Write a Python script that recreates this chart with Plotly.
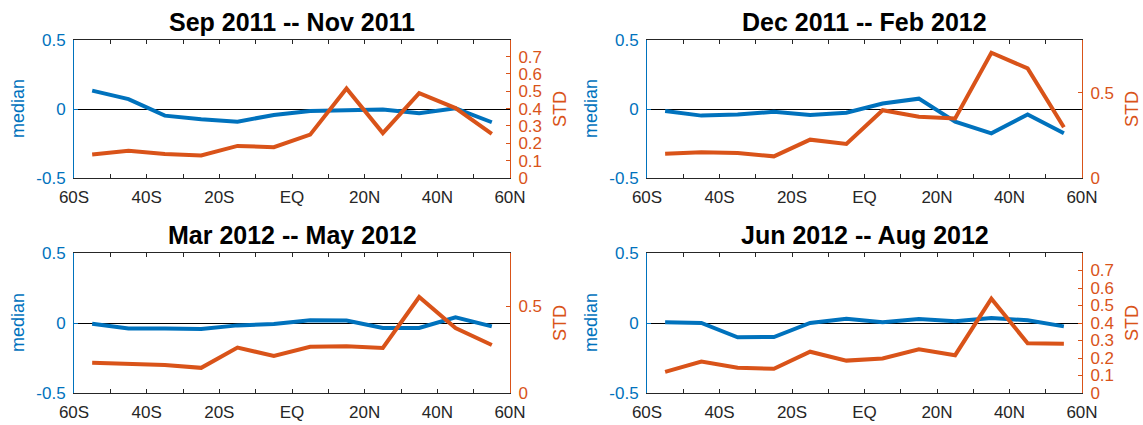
import plotly.graph_objects as go

W, H = 1143, 425

# ---------------- data ----------------
lat = [-55, -45, -35, -25, -15, -5, 5, 15, 25, 35, 45, 55]
xtick_vals = [-60, -50, -40, -30, -20, -10, 0, 10, 20, 30, 40, 50, 60]
xtick_text = ["60S", "", "40S", "", "20S", "", "EQ", "", "20N", "", "40N", "", "60N"]

titles = ["Sep 2011 -- Nov 2011", "Dec 2011 -- Feb 2012",
          "Mar 2012 -- May 2012", "Jun 2012 -- Aug 2012"]

median_son = [0.133, 0.072, -0.048, -0.075, -0.092, -0.043, -0.015, -0.012, -0.004, -0.030, 0.005, -0.096]
std_son = [0.136, 0.157, 0.138, 0.130, 0.185, 0.178, 0.250, 0.516, 0.259, 0.490, 0.403, 0.255]

median_djf = [-0.015, -0.048, -0.040, -0.020, -0.043, -0.027, 0.040, 0.075, -0.092, -0.176, -0.040, -0.176]
std_djf = [0.143, 0.151, 0.147, 0.127, 0.225, 0.200, 0.398, 0.359, 0.349, 0.735, 0.643, 0.298]

median_mam = [-0.005, -0.040, -0.040, -0.043, -0.017, -0.007, 0.019, 0.017, -0.036, -0.036, 0.040, -0.024]
std_mam = [0.174, 0.168, 0.162, 0.145, 0.262, 0.213, 0.266, 0.270, 0.260, 0.553, 0.374, 0.277]

median_jja = [0.005, 0.000, -0.102, -0.100, 0.000, 0.031, 0.005, 0.029, 0.012, 0.036, 0.019, -0.024]
std_jja = [0.121, 0.180, 0.144, 0.138, 0.236, 0.185, 0.197, 0.250, 0.216, 0.539, 0.284, 0.282]

medians = [median_son, median_djf, median_mam, median_jja]
stds = [std_son, std_djf, std_mam, std_jja]

left_ticks = [-0.5, 0, 0.5]
left_text = ["-0.5", "0", "0.5"]
std_ticks_full = [0, 0.1, 0.2, 0.3, 0.4, 0.5, 0.6, 0.7]
std_text_full = ["0", "0.1", "0.2", "0.3", "0.4", "0.5", "0.6", "0.7"]
std_ticks_short = [0, 0.5]
std_text_short = ["0", "0.5"]
std_tickvals = [std_ticks_full, std_ticks_short, std_ticks_short, std_ticks_full]
std_ticktext = [std_text_full, std_text_short, std_text_short, std_text_full]
std_ranges = [[0, 0.796], [0, 0.81], [0, 0.807], [0, 0.80]]

# ---------------- style / layout ----------------
BLUE = "#0072BD"
ORANGE = "#D95319"
DARK = "#262626"
FONT = "Liberation Sans, Arial, Helvetica, sans-serif"

# plot areas in pixels: (left, right, top, bottom)
boxes = [(74, 510, 40, 178), (647, 1082, 40, 178),
         (74, 510, 253, 393), (647, 1082, 253, 393)]


def px_x(x):
    return x / W


def px_y(y):
    return 1 - y / H


fig = go.Figure()
layout = dict(
    width=W, height=H,
    margin=dict(l=0, r=0, t=0, b=0, autoexpand=False),
    paper_bgcolor="white", plot_bgcolor="white",
    showlegend=False,
    font=dict(family=FONT, size=16, color=DARK),
)
annotations = []

for i in range(4):
    l, r, t, b = boxes[i]
    xn = "x" if i == 0 else f"x{i + 1}"
    yl = 2 * i + 1
    yr = 2 * i + 2
    yln = "y" if yl == 1 else f"y{yl}"
    yrn = f"y{yr}"
    xkey = "xaxis" if i == 0 else f"xaxis{i + 1}"
    ylkey = "yaxis" if yl == 1 else f"yaxis{yl}"
    yrkey = f"yaxis{yr}"

    layout[xkey] = dict(
        domain=[px_x(l), px_x(r)], anchor=yln, range=[-60, 60],
        tickvals=xtick_vals, ticktext=xtick_text,
        ticks="inside", ticklen=4, tickwidth=1, tickcolor=DARK,
        showline=True, linecolor=DARK, linewidth=1, mirror="ticks",
        showgrid=False, zeroline=False, automargin=False,
        tickfont=dict(family=FONT, size=17, color=DARK),
        ticklabelstandoff=4,
        fixedrange=True,
    )
    layout[ylkey] = dict(
        domain=[px_y(b), px_y(t)], anchor=xn, range=[-0.5, 0.5],
        tickvals=left_ticks, ticktext=left_text,
        ticks="inside", ticklen=4, tickwidth=1, tickcolor=BLUE,
        showline=True, linecolor=BLUE, linewidth=1,
        showgrid=False, zeroline=True, zerolinecolor="black", zerolinewidth=1,
        tickfont=dict(family=FONT, size=17, color=BLUE),
        ticklabelstandoff=4, automargin=False, fixedrange=True,
    )
    layout[yrkey] = dict(
        overlaying=yln, anchor=xn, side="right", range=std_ranges[i],
        tickvals=std_tickvals[i], ticktext=std_ticktext[i],
        ticks="inside", ticklen=4, tickwidth=1, tickcolor=ORANGE,
        showline=True, linecolor=ORANGE, linewidth=1,
        showgrid=False, zeroline=False, automargin=False,
        tickfont=dict(family=FONT, size=17, color=ORANGE),
        ticklabelstandoff=4, fixedrange=True,
    )

    fig.add_trace(go.Scatter(x=lat, y=medians[i], mode="lines",
                             line=dict(color=BLUE, width=4),
                             xaxis=xn, yaxis=yln, hoverinfo="skip"))
    fig.add_trace(go.Scatter(x=lat, y=stds[i], mode="lines",
                             line=dict(color=ORANGE, width=4),
                             xaxis=xn, yaxis=yrn, hoverinfo="skip"))

    cy = (t + b) / 2
    annotations.append(dict(
        text=f"<b>{titles[i]}</b>", xref="paper", yref="paper",
        x=px_x((l + r) / 2), y=px_y(t - 18), xanchor="center", yanchor="middle",
        showarrow=False, font=dict(family=FONT, size=25, color="black"),
    ))
    annotations.append(dict(
        text="median", xref="paper", yref="paper", textangle=-90,
        x=px_x(l - 56), y=px_y(cy), xanchor="center", yanchor="middle",
        showarrow=False, font=dict(family=FONT, size=18, color=BLUE),
    ))
    annotations.append(dict(
        text="STD", xref="paper", yref="paper", textangle=-90,
        x=px_x(r + 50), y=px_y(cy), xanchor="center", yanchor="middle",
        showarrow=False, font=dict(family=FONT, size=18, color=ORANGE),
    ))

layout["annotations"] = annotations
fig.update_layout(**layout)
fig.write_html(
    "out.html",
    config={"displayModeBar": False, "staticPlot": True},
    post_script="document.body.style.margin='0';document.body.style.overflow='hidden';",
)
